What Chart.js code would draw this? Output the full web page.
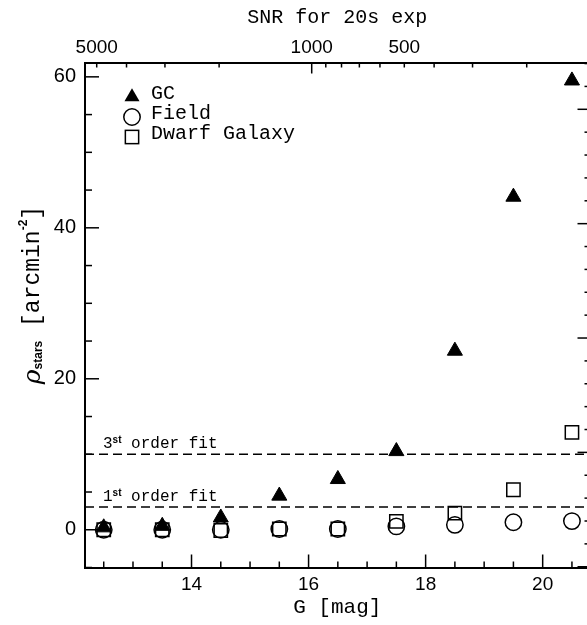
<!DOCTYPE html>
<html><head><meta charset="utf-8">
<script src="https://cdn.jsdelivr.net/npm/chart.js@4.4.1/dist/chart.umd.min.js"></script>
<style>
html,body{margin:0;padding:0;background:#fff;overflow:hidden;}
#wrap{position:relative;width:610px;height:625px;}
</style></head><body>
<div id="wrap"><canvas id="c" width="610" height="625"></canvas></div>
<script>
// ---- data ----
const magnitudes   = [12.5, 13.5, 14.5, 15.5, 16.5, 17.5, 18.5, 19.5, 20.5];
const gcDensity    = [0.3, 0.5, 1.6, 4.5, 6.7, 10.4, 23.7, 44.1, 59.5];
const fieldDensity = [0.0, 0.0, 0.0, 0.1, 0.1, 0.45, 0.65, 1.0, 1.15];
const dwarfDensity = [0.0, 0.0, -0.1, 0.1, 0.1, 1.1, 2.2, 5.3, 12.9];
const fitLevels    = [3, 10];
const fitNumbers   = ['1', '3'];
const gTicks       = [12.5,13,13.5,14,14.5,15,15.5,16,16.5,17,17.5,18,18.5,19,19.5,20,20.5];
const gLabeled     = [14, 16, 18, 20];
const rhoTicks     = [-5,0,5,10,15,20,25,30,35,40,45,50,55,60];
const rhoLabeled   = [0, 20, 40, 60];
const snrTicks     = [5000,4000,3000,2000,1000,900,800,700,600,500,400,300,200];
const snrLabeled   = [5000, 1000, 500];
const snrMajor     = [1000];
const rightTicks   = [-5,-4,-3,-2,-1,0,1,2,3,4,5,6,7,8,9,10,11,12,13,14,15,16,17];

// ---- axis ranges ----
const X_MIN = 12.18, X_MAX = 20.8;
const Y_MIN = -5, Y_MAX = 61.9;
const SNR_MIN = 125, SNR_MAX = 5458;
const R_MIN = -5.033, R_MAX = 17.046;

const MONO = '"Liberation Mono", "DejaVu Sans Mono", monospace';
const SANS = '"Liberation Sans", Arial, sans-serif';

const pts = arr => magnitudes.map((m, i) => ({x: m, y: arr[i]}));

const datasets = [
  {label: 'GC', data: pts(gcDensity), pointStyle: 'triangle', pointRadius: 8.7,
   backgroundColor: '#000', borderColor: '#000', borderWidth: 1, showLine: false, order: 0},
  {label: 'Field', data: pts(fieldDensity), pointStyle: 'circle', pointRadius: 8.2,
   backgroundColor: 'rgba(0,0,0,0)', borderColor: '#000', borderWidth: 1.5, showLine: false, order: 1},
  {label: 'Dwarf Galaxy', data: pts(dwarfDensity), pointStyle: 'rect', pointRadius: 9.4,
   backgroundColor: 'rgba(0,0,0,0)', borderColor: '#000', borderWidth: 1.5, showLine: false, order: 2}
];
fitLevels.forEach(lv => datasets.push({
  label: 'fit' + lv, data: [{x: X_MIN, y: lv}, {x: X_MAX, y: lv}], showLine: true,
  borderColor: '#000', borderWidth: 1.5, borderDash: [9, 5], pointRadius: 0, order: 10
}));

const setTicks = arr => s => { s.ticks = arr.map(v => ({value: v})); };

const decor = {
  id: 'decor',
  afterDraw(chart) {
    const ctx = chart.ctx, a = chart.chartArea, S = chart.scales;
    ctx.save();
    ctx.strokeStyle = '#000'; ctx.lineWidth = 1.5; ctx.lineCap = 'butt';
    const seg = (x1, y1, x2, y2) => { ctx.beginPath(); ctx.moveTo(x1, y1); ctx.lineTo(x2, y2); ctx.stroke(); };
    S.x.ticks.forEach(t => { const p = S.x.getPixelForValue(t.value); const L = gLabeled.includes(t.value) ? 13 : 6; seg(p, a.bottom, p, a.bottom - L); });
    S.x2.ticks.forEach(t => { const p = S.x2.getPixelForValue(t.value); const L = snrMajor.includes(t.value) ? 11 : 5; seg(p, a.top, p, a.top + L); });
    S.y.ticks.forEach(t => { const p = S.y.getPixelForValue(t.value); const L = rhoLabeled.includes(t.value) ? 14 : 7; seg(a.left, p, a.left + L, p); });
    S.y2.ticks.forEach(t => { const p = S.y2.getPixelForValue(t.value); const L = (t.value % 5 === 0) ? 12 : 5; seg(a.right, p, a.right - L, p); });

    // fit annotations
    ctx.fillStyle = '#000'; ctx.textBaseline = 'alphabetic';
    fitLevels.forEach((lv, i) => {
      const y = S.y.getPixelForValue(lv) - 6;
      let x = 103;
      ctx.font = '16px ' + MONO; ctx.fillText(fitNumbers[i], x, y); x += ctx.measureText(fitNumbers[i]).width;
      ctx.font = 'bold 10px ' + SANS; ctx.fillText('st', x, y - 5); x += ctx.measureText('st').width;
      ctx.font = '16px ' + MONO; ctx.fillText(' order fit', x, y);
    });

    // legend
    const lx = 132, rows = [97, 117, 137];
    ctx.lineWidth = 1.5;
    let r = 8.7, yy = rows[0];
    ctx.beginPath(); ctx.moveTo(lx, yy - r); ctx.lineTo(lx + r * 0.866, yy + r / 2); ctx.lineTo(lx - r * 0.866, yy + r / 2); ctx.closePath(); ctx.fill();
    ctx.beginPath(); ctx.arc(lx, rows[1], 8.2, 0, Math.PI * 2); ctx.stroke();
    const h = 9.4 * Math.SQRT1_2; ctx.strokeRect(lx - h, rows[2] - h, 2 * h, 2 * h);
    ctx.font = '20px ' + MONO; ctx.textBaseline = 'middle';
    chart.data.datasets.slice(0, 3).forEach((d, i) => ctx.fillText(d.label, 151, rows[i] - 3));

    // y title
    ctx.translate(28, 295); ctx.rotate(-Math.PI / 2);
    const parts = [
      {t: 'ρ', f: 'italic 25px "DejaVu Serif", serif', dy: 0},
      {t: 'stars', f: 'bold 12px ' + SANS, dy: 6},
      {t: ' [arcmin', f: '23px ' + MONO, dy: 0},
      {t: '-2', f: 'bold 12px ' + SANS, dy: -9},
      {t: ']', f: '23px ' + MONO, dy: 0}
    ];
    let tw = 0;
    parts.forEach(p => { ctx.font = p.f; p.w = ctx.measureText(p.t).width; tw += p.w; });
    let px = -tw / 2;
    ctx.textBaseline = 'middle';
    parts.forEach(p => { ctx.font = p.f; ctx.fillText(p.t, px, p.dy + 5); px += p.w; });
    ctx.restore();
  }
};

new Chart(document.getElementById('c'), {
  type: 'scatter',
  data: {datasets},
  options: {
    responsive: false, animation: false, devicePixelRatio: 1,
    layout: {padding: 0},
    plugins: {legend: {display: false}, tooltip: {enabled: false}},
    scales: {
      x: {type: 'linear', position: 'bottom', min: X_MIN, max: X_MAX,
          afterBuildTicks: setTicks(gTicks),
          afterFit: s => { s.height = 57.5; },
          grid: {display: false, drawTicks: false},
          border: {display: true, color: '#000', width: 2},
          ticks: {autoSkip: false, maxRotation: 0, padding: 6, color: '#000', font: {family: SANS, size: 19},
                  callback: v => gLabeled.includes(v) ? String(v) : ''},
          title: {display: true, text: 'G [mag]', color: '#000', font: {family: MONO, size: 21}, padding: {top: 0, bottom: 5}}},
      x2: {type: 'logarithmic', position: 'top', reverse: true, min: SNR_MIN, max: SNR_MAX,
          afterBuildTicks: setTicks(snrTicks),
          afterFit: s => { s.height = 62.5; },
          grid: {display: false, drawTicks: false},
          border: {display: true, color: '#000', width: 2},
          ticks: {autoSkip: false, maxRotation: 0, padding: 3, color: '#000', font: {family: SANS, size: 19},
                  callback: v => snrLabeled.includes(v) ? String(v) : ''},
          title: {display: true, text: 'SNR for 20s exp', color: '#000', font: {family: MONO, size: 20}, padding: {top: 6, bottom: 0}}},
      y: {type: 'linear', position: 'left', min: Y_MIN, max: Y_MAX,
          afterBuildTicks: setTicks(rhoTicks),
          afterFit: s => { s.width = 85; },
          grid: {display: false, drawTicks: false},
          border: {display: true, color: '#000', width: 2},
          ticks: {autoSkip: false, padding: 9, color: '#000', font: {family: SANS, size: 20},
                  callback: v => rhoLabeled.includes(v) ? String(v) : ''}},
      y2: {type: 'linear', position: 'right', min: R_MIN, max: R_MAX,
          afterBuildTicks: setTicks(rightTicks),
          afterFit: s => { s.width = 20.5; },
          grid: {display: false, drawTicks: false},
          border: {display: true, color: '#000', width: 2},
          ticks: {display: false}}
    }
  },
  plugins: [decor]
});
</script>
</body></html>
